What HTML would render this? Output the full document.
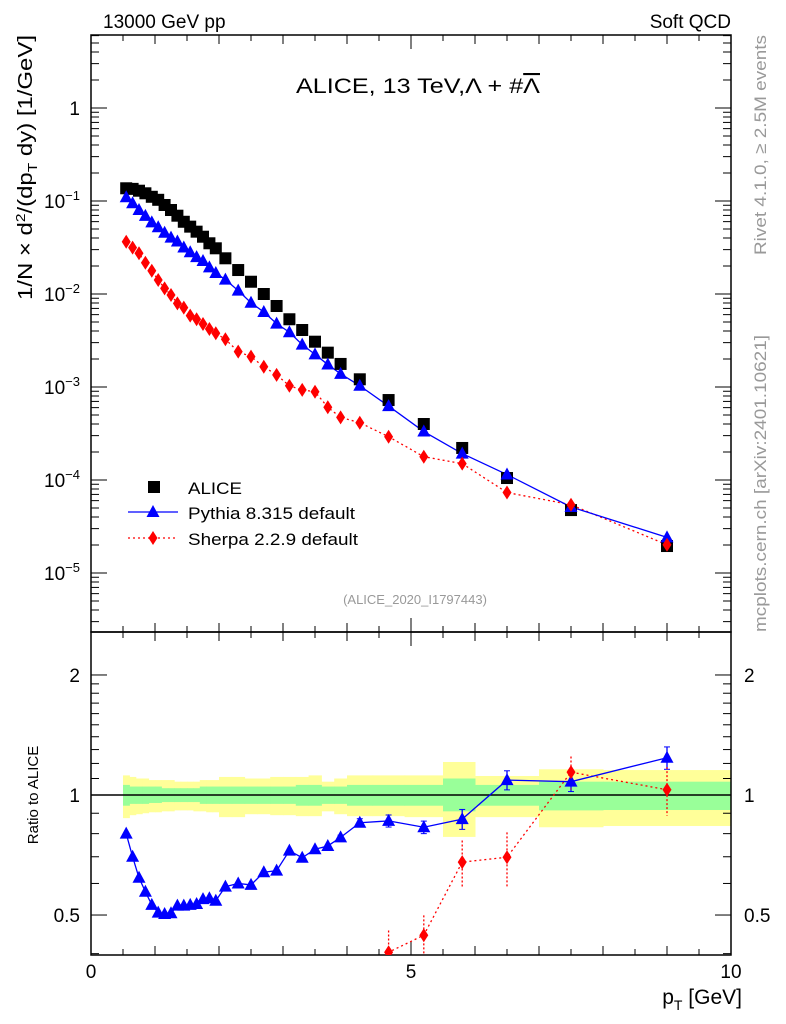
<!DOCTYPE html>
<html><head><meta charset="utf-8"><style>
html,body{margin:0;padding:0;background:#fff;width:786px;height:1024px;overflow:hidden;}
svg{display:block;font-family:"Liberation Sans",sans-serif;}
</style></head><body>
<svg id="chart" width="786" height="1024" viewBox="0 0 786 1024" xmlns="http://www.w3.org/2000/svg">
<text x="103" y="28" font-size="19">13000 GeV pp</text>
<text x="731" y="28" font-size="19" text-anchor="end">Soft QCD</text>
<text x="296" y="93" font-size="21" textLength="244" lengthAdjust="spacingAndGlyphs">ALICE, 13 TeV,Λ + #<tspan text-decoration="overline">Λ</tspan></text>
<text x="415" y="604" font-size="13" fill="#999" text-anchor="middle">(ALICE_2020_I1797443)</text>
<text transform="translate(766,255) rotate(-90)" font-size="17" fill="#999" textLength="220" lengthAdjust="spacingAndGlyphs">Rivet 4.1.0, ≥ 2.5M events</text>
<text transform="translate(766,632) rotate(-90)" font-size="17" fill="#999" textLength="297" lengthAdjust="spacingAndGlyphs">mcplots.cern.ch [arXiv:2401.10621]</text>
<text transform="translate(32,300) rotate(-90)" font-size="20" textLength="265" lengthAdjust="spacingAndGlyphs">1/N × d<tspan font-size="13" dy="-7">2</tspan><tspan dy="7">/(dp</tspan><tspan font-size="13" dy="5">T</tspan><tspan dy="-5"> dy) [1/GeV]</tspan></text>
<text transform="translate(38,795) rotate(-90)" font-size="15" text-anchor="middle">Ratio to ALICE</text>
<text x="742" y="1004" font-size="21" text-anchor="end">p<tspan font-size="14" dy="6">T</tspan><tspan dy="-6"> [GeV]</tspan></text>
<g id="g"></g>
</svg>
<script>
const edges=[0.5,0.6,0.7,0.8,0.9,1.0,1.1,1.2,1.3,1.4,1.5,1.6,1.7,1.8,1.9,2.0,2.2,2.4,2.6,2.8,3.0,3.2,3.4,3.6,3.8,4.0,4.4,4.9,5.5,6.0,7.0,8.0,10.0];
const centers=[0.55,0.65,0.75,0.85,0.95,1.05,1.15,1.25,1.35,1.45,1.55,1.65,1.75,1.85,1.95,2.1,2.3,2.5,2.7,2.9,3.1,3.3,3.5,3.7,3.9,4.2,4.65,5.2,5.8,6.5,7.5,9.0];
const alice=[0.137,0.135,0.129,0.121,0.111,0.103,0.0906,0.080,0.0695,0.0598,0.0530,0.0468,0.0413,0.0351,0.0310,0.0242,0.0181,0.01355,0.0100,0.00743,0.00535,0.0041,0.00307,0.00234,0.00177,0.00121,0.000724,0.0004,0.000221,0.000105,0.0000475,0.0000195];
const pythiaRatio=[0.80,0.70,0.62,0.572,0.530,0.507,0.503,0.505,0.528,0.528,0.530,0.533,0.548,0.551,0.543,0.589,0.600,0.595,0.640,0.646,0.725,0.696,0.731,0.745,0.783,0.852,0.861,0.83,0.87,1.09,1.08,1.24];
const sherpa=[0.0365,0.0315,0.0274,0.0217,0.0178,0.01415,0.0115,0.00975,0.00794,0.00713,0.00585,0.00535,0.00476,0.00421,0.00378,0.00326,0.0024,0.00212,0.00165,0.00135,0.00103,0.00093,0.00089,0.000605,0.000472,0.000413,0.000292,0.000178,0.00015,0.0000733,0.0000542,0.0000201];
const yellowUp=[1.12,1.11,1.10,1.10,1.09,1.09,1.09,1.09,1.08,1.08,1.08,1.08,1.09,1.09,1.09,1.11,1.11,1.10,1.10,1.11,1.11,1.11,1.12,1.08,1.10,1.12,1.12,1.12,1.21,1.116,1.16,1.155];
const yellowDn=[0.875,0.89,0.895,0.90,0.905,0.905,0.91,0.91,0.915,0.915,0.915,0.91,0.91,0.905,0.905,0.88,0.88,0.895,0.895,0.89,0.89,0.885,0.885,0.91,0.895,0.885,0.885,0.88,0.785,0.88,0.83,0.836];
const greenUp=[1.06,1.05,1.05,1.05,1.05,1.05,1.04,1.04,1.04,1.04,1.04,1.04,1.05,1.05,1.05,1.05,1.05,1.05,1.05,1.05,1.05,1.06,1.06,1.05,1.05,1.06,1.06,1.06,1.10,1.06,1.08,1.08];
const greenDn=[0.94,0.95,0.95,0.95,0.955,0.955,0.96,0.96,0.96,0.96,0.96,0.96,0.95,0.95,0.95,0.95,0.95,0.95,0.95,0.95,0.95,0.94,0.94,0.95,0.95,0.94,0.94,0.94,0.91,0.94,0.915,0.917];
const ratioErr=[0,0,0,0,0,0,0,0,0,0,0,0,0,0,0,0,0,0,0,0,0,0,0,0,0.01,0.02,0.03,0.03,0.05,0.06,0.06,0.08];
const xTickLabels=["0","5","10"];
const yTickLabels=["1","10^-1","10^-2","10^-3","10^-4","10^-5"];
const rTickLabels=["2","1","0.5"];
const rTickVals=[2,1,0.5];

const NS="http://www.w3.org/2000/svg";
const G=document.getElementById('g');
const L=91,R=731,T1=35,B1=632,T2=632,B2=955;
const X=v=>L+(R-L)*v/10;
const Y=v=>108-93*Math.log10(v);
const RY=v=>795-398.7*Math.log10(v);
function el(tag,attrs,parent){const e=document.createElementNS(NS,tag);for(const k in attrs)e.setAttribute(k,attrs[k]);(parent||G).appendChild(e);return e;}

const bands=el('g',{});


for(let i=0;i<centers.length;i++){
  const x0=X(edges[i]),x1=X(edges[i+1]);
  const y=el('rect',{x:x0,y:RY(yellowUp[i]),width:x1-x0+0.5,height:RY(yellowDn[i])-RY(yellowUp[i]),fill:'#ffff99'},bands);
  
  
}
for(let i=0;i<centers.length;i++){
  const x0=X(edges[i]),x1=X(edges[i+1]);
  const g=el('rect',{x:x0,y:RY(greenUp[i]),width:x1-x0+0.5,height:RY(greenDn[i])-RY(greenUp[i]),fill:'#99ff99'},bands);
  
  
}
const one=el('line',{x1:L,x2:R,y1:RY(1),y2:RY(1),stroke:'#000','stroke-width':1.5});



const f1=el('rect',{x:L,y:T1,width:R-L,height:B1-T1,fill:'none',stroke:'#000','stroke-width':1.5});


const f2=el('rect',{x:L,y:T2,width:R-L,height:B2-T2,fill:'none',stroke:'#000','stroke-width':1.5});



for(let k=0;k<=20;k++){
  const v=k*0.5,x=X(v),major=(k%10===0),len=major?14:(k%2===0?9:6);
  for(const [t,b] of [[T1,B1],[T2,B2]]){
    el('line',{x1:x,x2:x,y1:b,y2:b-len,stroke:'#000'});
    el('line',{x1:x,x2:x,y1:t,y2:t+len,stroke:'#000'});
  }
}
xTickLabels.forEach((s,i)=>{
  const t=el('text',{x:X(i*5),y:978,'font-size':19,'text-anchor':'middle'});t.textContent=s;
  
  
});
for(let d=-6;d<=0;d++){
  for(let m=1;m<=9;m++){
    const v=m*Math.pow(10,d),y=Y(v);
    if(y<T1||y>B1)continue;
    const len=m===1?16:8;
    el('line',{x1:L,x2:L+len,y1:y,y2:y,stroke:'#000'});
    el('line',{x1:R,x2:R-len,y1:y,y2:y,stroke:'#000'});
  }
}
yTickLabels.forEach((s,i)=>{
  const y=Y(Math.pow(10,-i));
  const t=el('text',{x:80,y:y+7,'font-size':19,'text-anchor':'end'});
  if(i===0){t.textContent='1';}
  else{t.textContent='10';const sp=el('tspan',{dy:-8,'font-size':13},t);sp.textContent='\u2212'+i;}
  
  
});
const rMinor=[0.4,0.6,0.7,0.8,0.9,1.1,1.2,1.3,1.4,1.5,1.6,1.7,1.8,1.9,2,1,0.5];
rMinor.forEach(v=>{
  const y=RY(v),major=(v===2||v===1||v===0.5),len=major?16:8;
  el('line',{x1:L,x2:L+len,y1:y,y2:y,stroke:'#000'});
  el('line',{x1:R,x2:R-len,y1:y,y2:y,stroke:'#000'});
});
rTickLabels.forEach((s,i)=>{
  const y=RY(rTickVals[i]);
  const t=el('text',{x:80,y:y+7,'font-size':19,'text-anchor':'end'});t.textContent=s;
  
  
  const t2=el('text',{x:744,y:y+7,'font-size':19});t2.textContent=s;
  
  
});

function tri(x,y,c,parent){return el('polygon',{points:`${x},${y-7} ${x-6.5},${y+5} ${x+6.5},${y+5}`,fill:c},parent);}
function dia(x,y,c,parent){return el('polygon',{points:`${x},${y-7} ${x-4.5},${y} ${x},${y+7} ${x+4.5},${y}`,fill:c},parent);}

const defs=el('defs',{});
const cp=el('clipPath',{id:'c1'},defs);el('rect',{x:L,y:T1,width:R-L,height:B1-T1},cp);
const cp2=el('clipPath',{id:'c2'},defs);el('rect',{x:L,y:T2,width:R-L,height:B2-T2},cp2);

const pythia=alice.map((a,i)=>a*pythiaRatio[i]);
const main=el('g',{'clip-path':'url(#c1)'});
const sh=el('polyline',{points:centers.map((c,i)=>X(c)+','+Y(sherpa[i])).join(' '),fill:'none',stroke:'#f00','stroke-width':1.3,'stroke-dasharray':'2,3'},main);


const py=el('polyline',{points:centers.map((c,i)=>X(c)+','+Y(pythia[i])).join(' '),fill:'none',stroke:'#00f','stroke-width':1.3},main);


centers.forEach((c,i)=>{
  const s=el('rect',{x:X(c)-6,y:Y(alice[i])-6,width:12,height:12,fill:'#000'},main);
  
  
});
centers.forEach((c,i)=>{
  const p=tri(X(c),Y(pythia[i]),'#00f',main);
  
  
  const d=dia(X(c),Y(sherpa[i]),'#f00',main);
  
  
});

const rat=el('g',{'clip-path':'url(#c2)'});
const sherpaRatio=sherpa.map((s,i)=>s/alice[i]);
const srl=el('polyline',{points:centers.map((c,i)=>X(c)+','+RY(sherpaRatio[i])).join(' '),fill:'none',stroke:'#f00','stroke-width':1.3,'stroke-dasharray':'2,3'},rat);


const prl=el('polyline',{points:centers.map((c,i)=>X(c)+','+RY(pythiaRatio[i])).join(' '),fill:'none',stroke:'#00f','stroke-width':1.3},rat);


centers.forEach((c,i)=>{
  const x=X(c);
  if(ratioErr[i]>0){
    const e=ratioErr[i];
    el('line',{x1:x,x2:x,y1:RY(pythiaRatio[i]+e),y2:RY(pythiaRatio[i]-e),stroke:'#00f','stroke-width':1.3},rat);
    el('line',{x1:x-3,x2:x+3,y1:RY(pythiaRatio[i]+e),y2:RY(pythiaRatio[i]+e),stroke:'#00f'},rat);
    el('line',{x1:x-3,x2:x+3,y1:RY(pythiaRatio[i]-e),y2:RY(pythiaRatio[i]-e),stroke:'#00f'},rat);
    const se=e*1.8;
    el('line',{x1:x,x2:x,y1:RY(sherpaRatio[i]+se),y2:RY(sherpaRatio[i]-se),stroke:'#f00','stroke-width':1.3,'stroke-dasharray':'2,2'},rat);
  }
  const p=tri(x,RY(pythiaRatio[i]),'#00f',rat);
  
  
  const d=dia(x,RY(sherpaRatio[i]),'#f00',rat);
  
  
});

const lg=el('g',{});


el('rect',{x:148,y:481,width:12,height:12,fill:'#000'},lg);
const t1=el('text',{x:188,y:494,'font-size':17,textLength:54,lengthAdjust:'spacingAndGlyphs'},lg);t1.textContent='ALICE';


el('line',{x1:128,x2:178,y1:512,y2:512,stroke:'#00f','stroke-width':1.3},lg);
tri(153,512,'#00f',lg);
const t2=el('text',{x:188,y:519,'font-size':17,textLength:167,lengthAdjust:'spacingAndGlyphs'},lg);t2.textContent='Pythia 8.315 default';


el('line',{x1:128,x2:178,y1:538,y2:538,stroke:'#f00','stroke-width':1.3,'stroke-dasharray':'2,3'},lg);
dia(153,538,'#f00',lg);
const t3=el('text',{x:188,y:545,'font-size':17,textLength:170,lengthAdjust:'spacingAndGlyphs'},lg);t3.textContent='Sherpa 2.2.9 default';


</script>
</body></html>
